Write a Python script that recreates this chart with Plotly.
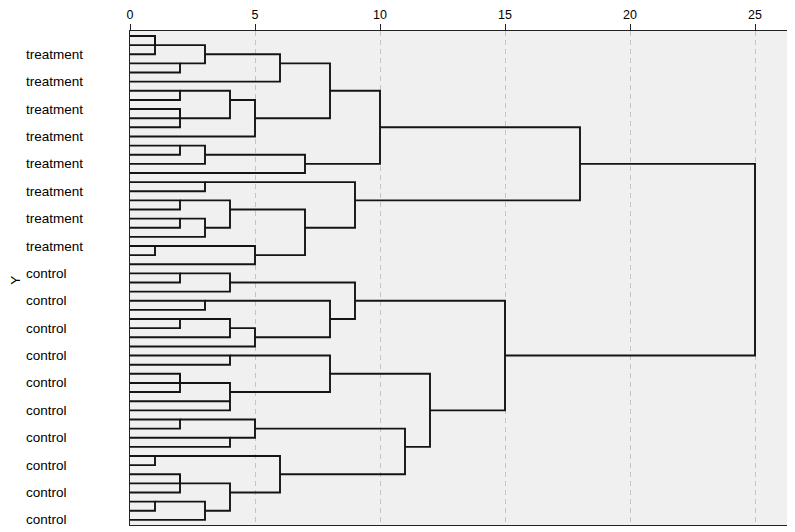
import plotly.graph_objects as go

# Dendrogram (rescaled distance 0-25), 54 cases, one row per case (row 0 at top)
n_cases = 54

# Merge steps: the two clusters joined (given by the row each one exits on) and the distance
merge_a = [0, 0, 3, 1, 2, 6, 8, 8, 6, 7, 3, 12, 12, 13, 6, 16, 18, 20, 20, 18, 23, 23, 19, 16, 10,
           26, 26, 29, 31, 31, 32, 29, 27, 35, 37, 37, 40, 38, 35, 42, 44, 42, 46, 48, 48, 51, 51, 49,
           46, 43, 37, 29, 14]
merge_b = [1, 2, 4, 3, 5, 7, 9, 10, 9, 11, 9, 13, 14, 15, 14, 17, 19, 21, 22, 21, 24, 25, 24, 21, 18,
           27, 28, 30, 32, 33, 34, 33, 31, 36, 38, 39, 41, 40, 39, 43, 45, 44, 47, 49, 50, 52, 53, 52,
           50, 48, 45, 41, 35]
merge_dist = [1, 1, 2, 3, 6, 2, 2, 2, 4, 5, 8, 2, 3, 7, 10, 3, 2, 2, 3, 4, 1, 5, 7, 9, 18,
              2, 4, 3, 2, 4, 5, 8, 9, 4, 2, 2, 4, 4, 8, 2, 4, 5, 1, 2, 2, 1, 3, 4,
              6, 11, 12, 15, 25]

# Case labels (only every third case is labelled in the chart)
label_rows = [2, 5, 8, 11, 14, 17, 20, 23, 26, 29, 32, 35, 38, 41, 44, 47, 50, 53]
label_text = ["treatment"] * 8 + ["control"] * 10

x_ticks = [0, 5, 10, 15, 20, 25]

# build the elbow segments
level = {r: 0 for r in range(n_cases)}
xs, ys = [], []
for a, b, d in zip(merge_a, merge_b, merge_dist):
    xs += [level[a], d, d, level[b], None]
    ys += [a, a, b, b, None]
    del level[a], level[b]
    level[(a + b) // 2] = d

fig = go.Figure()
fig.add_trace(go.Scatter(
    x=xs, y=ys, mode="lines",
    line=dict(color="#141414", width=1.9),
    hoverinfo="skip", showlegend=False
))

font = "Liberation Sans, Arial, sans-serif"
for r, t in zip(label_rows, label_text):
    fig.add_annotation(
        x=-0.1613, xref="paper", y=r, yref="y",
        text=t, showarrow=False, xanchor="left", yanchor="middle",
        font=dict(family=font, size=13.5, color="#000")
    )

fig.add_annotation(
    x=-0.1745, xref="paper", y=0.495, yref="paper",
    text="Y", textangle=-90, showarrow=False,
    xanchor="center", yanchor="middle",
    font=dict(family=font, size=13.5, color="#000")
)

# page body has an 8px margin, so the figure is shifted by that amount
fig.update_layout(
    width=787, height=524,
    margin=dict(l=122, r=8, t=23, b=7),
    paper_bgcolor="white",
    plot_bgcolor="#f0f0f0",
    font=dict(family=font, size=13, color="#000"),
    xaxis=dict(
        range=[0, 26.28], side="top", automargin=False,
        tickvals=x_ticks, ticks="outside", ticklen=6, tickcolor="#222",
        tickfont=dict(size=12.5),
        showgrid=True, gridcolor="#c4c4c4", griddash="5px,4px", gridwidth=1,
        showline=True, linecolor="#222", linewidth=1, mirror=True,
        zeroline=False, fixedrange=True
    ),
    yaxis=dict(
        range=[53.56, -0.55], automargin=False,
        showticklabels=False, ticks="", showgrid=False,
        showline=True, linecolor="#222", linewidth=1, mirror=True,
        zeroline=False, fixedrange=True
    )
)

fig.write_html("out.html")
